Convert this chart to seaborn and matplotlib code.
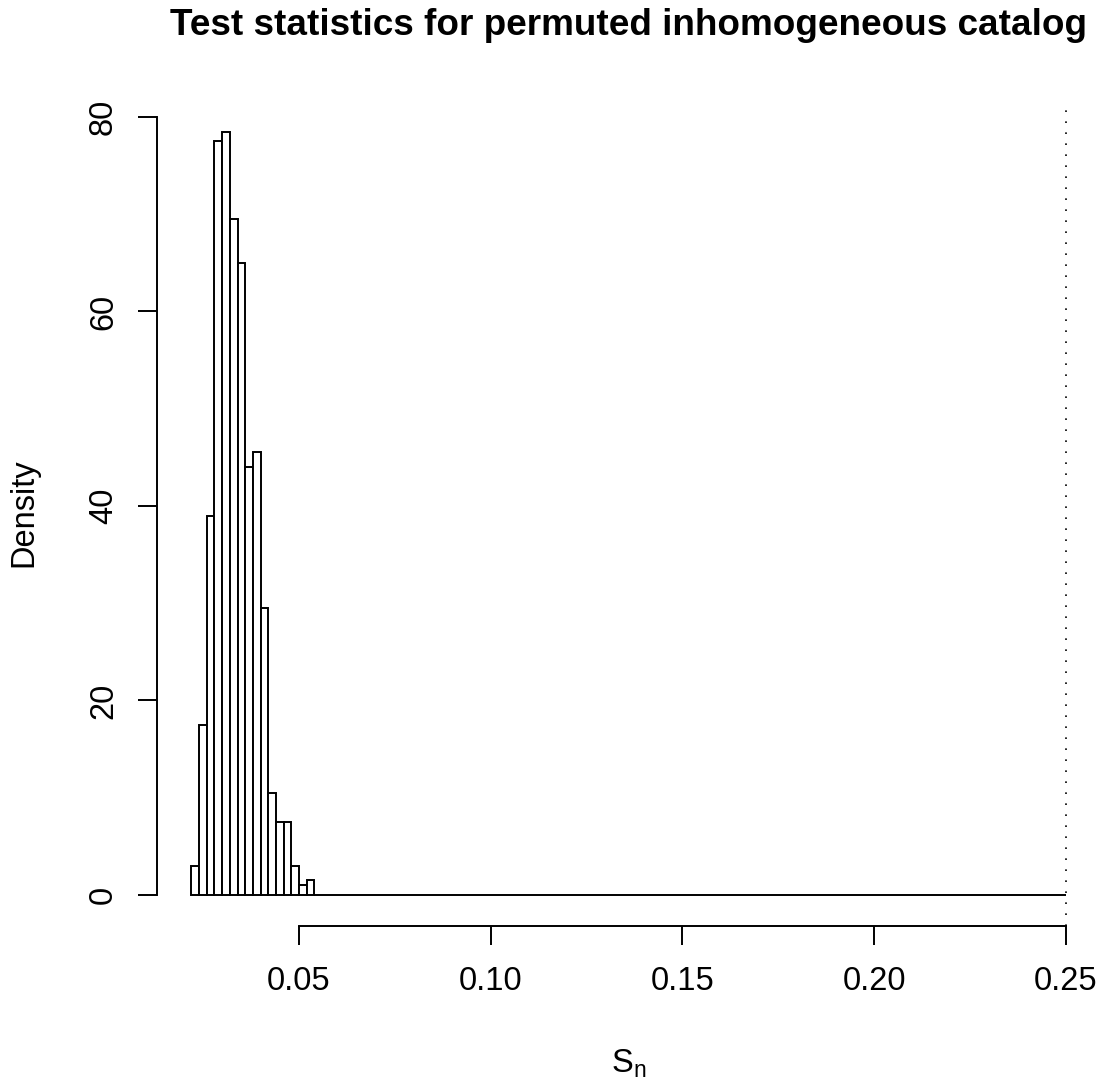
import numpy as np
import pandas as pd
import matplotlib
matplotlib.use("Agg")
import matplotlib.pyplot as plt
import seaborn as sns

# ---- data ----
bin_start = 0.022
bin_width = 0.002
bin_end = 0.25
densities_nonzero = [3.0, 17.5, 39.0, 77.5, 78.5, 69.5, 65.0, 44.0,
                     45.5, 29.5, 10.5, 7.5, 7.5, 3.0, 1.0, 1.5]
observed_stat = 0.25
x_ticks = [0.05, 0.10, 0.15, 0.20, 0.25]
x_tick_labels = ["0.05", "0.10", "0.15", "0.20", "0.25"]
y_ticks = [0, 20, 40, 60, 80]
y_tick_labels = ["0", "20", "40", "60", "80"]
title = "Test statistics for permuted inhomogeneous catalog"
x_label = r"$\mathregular{S_n}$"
y_label = "Density"

# histogram bins (the remaining bins up to the observed statistic are empty)
n_bins = int(round((bin_end - bin_start) / bin_width))
edges = bin_start + bin_width * np.arange(n_bins + 1)
centers = (edges[:-1] + edges[1:]) / 2
dens = np.zeros(n_bins)
dens[:len(densities_nonzero)] = densities_nonzero
df = pd.DataFrame({"Sn": centers, "density": dens})

sns.set_style("ticks")
plt.rcParams["font.family"] = ["Liberation Sans", "DejaVu Sans"]
plt.rcParams["mathtext.fontset"] = "custom"
plt.rcParams["mathtext.rm"] = "Liberation Sans"
plt.rcParams["text.color"] = "black"
plt.rcParams["axes.labelcolor"] = "black"

W, H = 1104, 1083
fig = plt.figure(figsize=(W / 100, H / 100), dpi=100)
left, right, top, bottom = 156.5, 1101, 101, 925.5
ax = fig.add_axes([left / W, 1 - bottom / H, (right - left) / W, (bottom - top) / H])

sns.histplot(data=df, x="Sn", weights="density", binwidth=bin_width,
             binrange=(bin_start, bin_end), stat="count",
             element="bars", fill=True, facecolor="white", edgecolor="black",
             linewidth=1.4, alpha=1, ax=ax)

ax.axvline(observed_stat, color="black", lw=1.2, ls=(0, (1, 5.6)))

xr = bin_end - bin_start
ax.set_xlim(bin_start - 0.04 * xr, bin_end + 0.04 * xr)
ymax = max(densities_nonzero)
ax.set_ylim(-0.04 * ymax, ymax * 1.04)

ax.set_xticks(x_ticks)
ax.set_xticklabels(x_tick_labels)
ax.set_yticks(y_ticks)
ax.set_yticklabels(y_tick_labels, rotation=90, va="center")
ax.set_xlabel("")
ax.set_ylabel("")

for s in ["top", "right"]:
    ax.spines[s].set_visible(False)
for s in ["left", "bottom"]:
    ax.spines[s].set_linewidth(1.4)
    ax.spines[s].set_color("black")
ax.spines["left"].set_bounds(y_ticks[0], y_ticks[-1])
ax.spines["bottom"].set_bounds(x_ticks[0], x_ticks[-1])

ax.tick_params(axis="both", length=14, width=1.4, color="black",
               labelsize=23.5, labelcolor="black")
ax.tick_params(axis="x", pad=15)
ax.tick_params(axis="y", pad=13)

cx = (left + right) / 2
fig.text(cx / W, 1 - 35 / H, title, ha="center", va="baseline",
         fontsize=26.6, fontweight="bold", color="black")
fig.text(cx / W, 1 - 1073 / H, x_label, ha="center", va="baseline",
         fontsize=23.5, color="black")
fig.text(24 / W, 1 - 513 / H, y_label, ha="center", va="center",
         rotation=90, fontsize=23.5, color="black")

fig.savefig("out.png", dpi=100, facecolor="white")
